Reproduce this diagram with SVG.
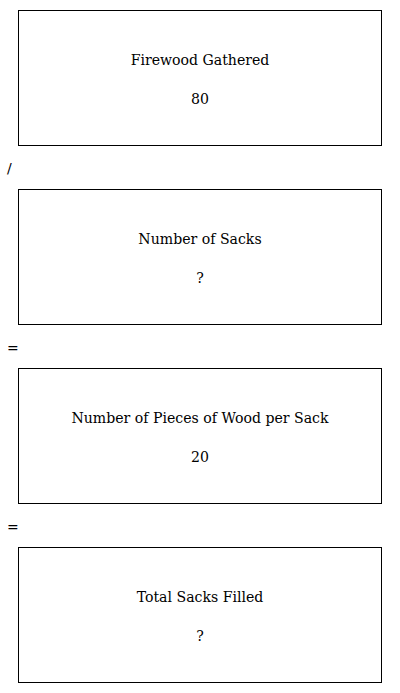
<svg xmlns="http://www.w3.org/2000/svg" width="400" height="693" viewBox="0 0 400 693">
<style>
.box{fill:#fff;stroke:#000;stroke-width:1}
.t{font-family:"DejaVu Serif","Liberation Serif",serif;font-size:14.1px;fill:#000;text-anchor:middle}
.op{font-family:"DejaVu Sans","Liberation Sans",sans-serif;font-size:14px;fill:#000}
</style>
<rect width="400" height="693" fill="#fff"/>
<g id="node1"><rect class="box" x="18.5" y="10.5" width="363" height="135"/><text class="t" x="200" y="65">Firewood Gathered</text><text class="t" x="200" y="104">80</text></g>
<g id="node2"><rect class="box" x="18.5" y="189.5" width="363" height="135"/><text class="t" x="200" y="244">Number of Sacks</text><text class="t" x="200" y="283">?</text></g>
<g id="node3"><rect class="box" x="18.5" y="368.5" width="363" height="135"/><text class="t" x="200" y="423">Number of Pieces of Wood per Sack</text><text class="t" x="200" y="462">20</text></g>
<g id="node4"><rect class="box" x="18.5" y="547.5" width="363" height="135"/><text class="t" x="200" y="602">Total Sacks Filled</text><text class="t" x="200" y="641">?</text></g>
<g id="connectors"><text class="op" x="7" y="173">/</text><text class="op" x="7" y="353">=</text><text class="op" x="7" y="532">=</text></g>
</svg>
